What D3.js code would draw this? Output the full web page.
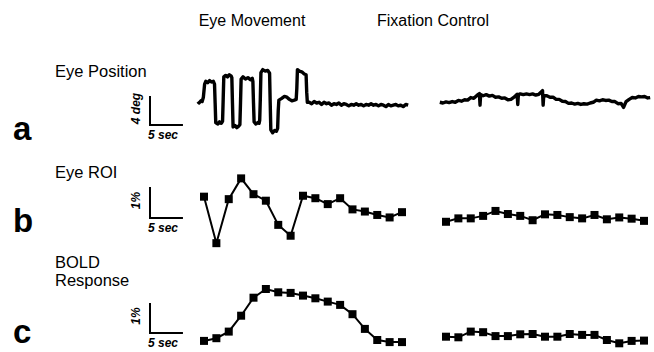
<!DOCTYPE html>
<html>
<head>
<meta charset="utf-8">
<script src="https://cdn.jsdelivr.net/npm/d3@7"></script>
<style>
	body {margin: 0; background: #fff;}
	svg {display: block;}
	text {font-family: "Liberation Sans", Arial, Helvetica, sans-serif; fill: #000;}
</style>
</head>
<body>
<svg id="chart" width="654" height="352"></svg>
<script>
// column / row text
const columnTitles = ["Eye Movement", "Fixation Control"];
const rowLabels = [["Eye Position"], ["Eye ROI"], ["BOLD", "Response"]];
const panelLetters = ["a", "b", "c"];
const ampLabels = ["4 deg", "1%", "1%"];
const timeLabel = "5 sec";

// volume times (sec) for the ROI and BOLD samples
const volumeTimes = [0, 2, 4, 6, 8, 10, 12, 14, 16, 18, 20, 22, 24, 26, 28, 30, 32];

// eye position trace, [sec, deg]
const eyePosMove = [
	[-1.0, 0.2], [-0.8, 0.0], [-0.5, 0.3], [-0.3, 0.2], [-0.1, 0.8], [0.1, 2.6], [0.3, 3.0], [0.6, 2.8], [0.9, 3.1], [1.2, 2.9],
	[1.5, 3.0], [1.7, 2.6], [1.8, 0.0], [1.9, -2.7], [2.2, -2.9], [2.5, -2.6], [2.8, -2.8], [3.0, -2.5], [3.1, 0.5], [3.2, 3.6],
	[3.5, 3.8], [3.8, 3.6], [4.1, 3.9], [4.4, 3.7], [4.5, 3.5], [4.6, 0.0], [4.7, -3.3], [5.0, -3.1], [5.3, -3.4], [5.6, -3.2],
	[5.8, -3.0], [5.9, 0.0], [6.0, 3.3], [6.3, 3.6], [6.7, 3.3], [7.1, 3.5], [7.5, 3.2], [7.8, 3.4], [7.9, 3.0], [8.0, 0.0],
	[8.1, -2.6], [8.4, -2.9], [8.7, -2.7], [8.9, -2.8], [9.0, -2.4], [9.1, 0.5], [9.2, 4.2], [9.5, 4.6], [9.9, 4.4], [10.3, 4.5],
	[10.6, 4.1], [10.7, 0.0], [10.8, -3.7], [11.1, -4.1], [11.4, -3.8], [11.7, -3.9], [11.9, -3.5], [12.0, -1.0], [12.1, 0.4], [12.5, 0.6],
	[13.0, 0.9], [13.4, 0.8], [13.8, 0.5], [14.2, 0.3], [14.6, 0.4], [14.9, 0.5], [15.0, 2.0], [15.1, 4.6], [15.4, 4.4], [15.8, 4.3],
	[16.2, 4.0], [16.5, 3.9], [16.6, 1.5], [16.7, 0.1], [17.0, 0.1], [17.4, -0.1], [17.8, 0.2], [18.2, 0.0], [18.6, 0.1], [19.0, -0.2],
	[19.4, 0.1], [19.8, -0.1], [20.2, 0.0], [20.6, -0.3], [21.0, -0.1], [21.4, -0.2], [21.8, 0.0], [22.2, -0.3], [22.6, -0.1], [23.0, -0.2],
	[23.4, -0.4], [23.8, -0.2], [24.2, -0.3], [24.6, -0.1], [25.0, -0.3], [25.4, -0.2], [25.8, -0.4], [26.2, -0.2], [26.6, -0.3], [27.0, -0.1],
	[27.4, -0.3], [27.8, -0.2], [28.2, -0.4], [28.6, -0.2], [29.0, -0.3], [29.4, -0.5], [29.8, -0.2], [30.2, -0.4], [30.6, -0.3], [31.0, -0.2],
	[31.4, -0.4], [31.8, -0.3], [32.2, -0.5], [32.6, -0.2], [33.0, -0.3]
];
const eyePosFix = [
	[-1.0, 0.1], [-0.5, 0.0], [0.0, 0.15], [0.5, 0.05], [1.0, 0.2], [1.5, 0.1], [2.0, 0.35], [2.5, 0.25], [3.0, 0.45], [3.5, 0.4],
	[4.0, 0.75], [4.5, 0.65], [5.0, 1.05], [5.4, 1.3], [5.5, -0.3], [5.6, 1.15], [6.0, 1.0], [6.5, 1.15], [7.0, 0.95], [7.5, 1.05],
	[8.0, 0.8], [8.5, 0.85], [9.0, 0.65], [9.5, 0.7], [10.0, 0.45], [10.5, 0.5], [11.0, 0.8], [11.5, 1.2], [11.6, -0.2], [11.7, 1.15],
	[12.0, 1.25], [12.5, 1.15], [13.0, 1.25], [13.5, 1.15], [14.0, 1.25], [14.5, 1.1], [15.0, 1.2], [15.6, 1.7], [15.7, -0.3], [15.8, 1.05],
	[16.3, 1.0], [16.8, 0.8], [17.3, 0.8], [17.8, 0.5], [18.3, 0.5], [18.8, 0.25], [19.3, 0.2], [19.8, -0.05], [20.3, 0.0], [20.8, -0.15],
	[21.3, -0.05], [21.8, -0.2], [22.3, -0.1], [22.8, -0.15], [23.3, 0.0], [23.8, 0.1], [24.3, 0.4], [24.8, 0.3], [25.3, 0.45], [25.8, 0.35],
	[26.3, 0.4], [26.8, 0.2], [27.3, 0.2], [27.8, -0.1], [28.3, -0.05], [28.7, -0.6], [29.1, 0.2], [29.6, 0.5], [30.1, 0.75], [30.6, 0.7],
	[31.1, 0.9], [31.6, 0.85], [32.1, 0.9], [32.6, 0.7], [33.0, 0.75]
];

// % signal change per volume
const roiMove = [0.43, -1.07, 0.35, 1.02, 0.51, 0.30, -0.48, -0.83, 0.46, 0.38, 0.19, 0.38, 0.02, -0.05, -0.16, -0.24, -0.07];
const roiFix = [-0.38, -0.27, -0.27, -0.19, -0.03, -0.13, -0.19, -0.33, -0.14, -0.16, -0.23, -0.27, -0.16, -0.30, -0.24, -0.28, -0.35];
const boldMove = [-0.03, 0.06, 0.28, 0.81, 1.41, 1.70, 1.59, 1.57, 1.48, 1.39, 1.28, 1.17, 0.86, 0.37, 0.00, -0.07, -0.07];
const boldFix = [0.11, 0.09, 0.28, 0.26, 0.13, 0.13, 0.19, 0.20, 0.11, 0.11, 0.20, 0.17, 0.17, 0.00, -0.11, -0.03, -0.02];

let svg = d3.select("#chart");

let xMove = d3.scaleLinear().domain([0, 32]).range([204, 402]);
let xFix = d3.scaleLinear().domain([0, 32]).range([446, 644]);
let yPos = d3.scaleLinear().domain([0, 4]).range([103, 74]);
let yRoi = d3.scaleLinear().domain([0, 1]).range([210, 179]);
let yBold = d3.scaleLinear().domain([0, 1]).range([340, 310]);

// column titles
svg.selectAll(".colTitle")
	.data(columnTitles)
	.enter().append("text")
	.attr("class", "colTitle")
	.attr("x", (d, i) => i === 0 ? 252 : 433)
	.attr("y", 26)
	.attr("text-anchor", "middle")
	.attr("font-size", 16)
	.text(d => d);

// rows: label, letter, scale bar
let rows = [
	{label: rowLabels[0], labelY: 77, letterY: 140, barBottom: 125, amp: ampLabels[0], unit: 4, y: yPos, timeY: 139},
	{label: rowLabels[1], labelY: 178, letterY: 232, barBottom: 218, amp: ampLabels[1], unit: 1, y: yRoi, timeY: 232},
	{label: rowLabels[2], labelY: 268, letterY: 343, barBottom: 333, amp: ampLabels[2], unit: 1, y: yBold, timeY: 347}
];

rows.forEach(function(r, i){
	let g = svg.append("g");
	r.label.forEach(function(line, j){
		g.append("text")
			.attr("x", 55)
			.attr("y", r.labelY + j * 18)
			.attr("font-size", 16.5)
			.text(line);
	});
	g.append("text")
		.attr("x", 13)
		.attr("y", r.letterY)
		.attr("font-size", 33)
		.attr("font-weight", "bold")
		.text(panelLetters[i]);

	let barH = r.y(0) - r.y(r.unit);
	let barW = xMove(5) - xMove(0);
	g.append("path")
		.attr("d", `M150,${r.barBottom - barH}V${r.barBottom}H${150 + barW + 2}`)
		.attr("fill", "none")
		.attr("stroke", "#000")
		.attr("stroke-width", 2);
	g.append("text")
		.attr("transform", `translate(140,${r.barBottom - barH / 2 - 2}) rotate(-90)`)
		.attr("text-anchor", "middle")
		.attr("font-size", 12)
		.attr("font-weight", "bold")
		.attr("font-style", "italic")
		.text(r.amp);
	g.append("text")
		.attr("x", 148)
		.attr("y", r.timeY)
		.attr("font-size", 12)
		.attr("font-weight", "bold")
		.attr("font-style", "italic")
		.text(timeLabel);
});

// eye position traces
[[eyePosMove, xMove], [eyePosFix, xFix]].forEach(function(p){
	svg.append("path")
		.datum(p[0])
		.attr("d", d3.line().x(d => p[1](d[0])).y(d => yPos(d[1])))
		.attr("fill", "none")
		.attr("stroke", "#000")
		.attr("stroke-width", 3.4)
		.attr("stroke-linejoin", "round");
});

// ROI and BOLD series with square markers
function drawSeries(values, x, y){
	let pts = values.map((v, i) => [volumeTimes[i], v]);
	svg.append("path")
		.datum(pts)
		.attr("d", d3.line().x(d => x(d[0])).y(d => y(d[1])))
		.attr("fill", "none")
		.attr("stroke", "#000")
		.attr("stroke-width", 2);
	svg.append("g").selectAll("rect")
		.data(pts)
		.enter().append("rect")
		.attr("x", d => x(d[0]) - 4)
		.attr("y", d => y(d[1]) - 4)
		.attr("width", 8)
		.attr("height", 8)
		.attr("fill", "#000");
}

drawSeries(roiMove, xMove, yRoi);
drawSeries(roiFix, xFix, yRoi);
drawSeries(boldMove, xMove, yBold);
drawSeries(boldFix, xFix, yBold);
</script>
</body>
</html>
